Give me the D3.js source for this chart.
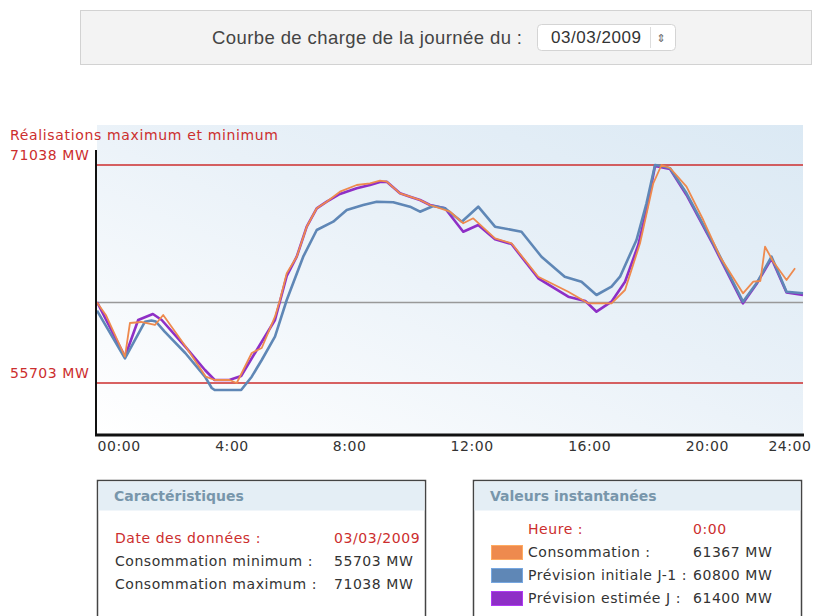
<!DOCTYPE html>
<html>
<head>
<meta charset="utf-8">
<script src="https://cdn.jsdelivr.net/npm/d3@7"></script>
<style>
  body { margin: 0; background: #fff; }
  svg { display: block; }
</style>
</head>
<body>
<svg id="chart" width="813" height="616"></svg>
<script>
// --- data ---
const dayLabel = '03/03/2009'
const consoMin = 55703
const consoMax = 71038
const currentHour = '0:00'
const currentValues = [61367, 60800, 61400]

const tickHours = [0, 4, 8, 12, 16, 20, 24]
const tickLabels = ['00:00', '4:00', '8:00', '12:00', '16:00', '20:00', '24:00']

const seriesNames = ['Consommation :', 'Prévision initiale J-1 :', 'Prévision estimée J :']
const seriesColors = ['#ee8a4e', '#5f87b6', '#8e2fc6']

// Prévision initiale J-1
const initHours = [0, 0.95, 1.63, 1.85, 2.0, 2.3, 3.0, 3.67, 3.9, 4.0, 4.9, 5.26, 5.6, 6.05, 6.45, 7.01, 7.47, 8.03, 8.49, 9.05,
    9.51, 10.07, 10.64, 10.98, 11.43, 11.83, 12.4, 12.96, 13.53, 14.43, 15.11, 15.9, 16.47, 16.98, 17.49, 17.78, 18.34, 18.68,
    18.97, 19.2, 19.48, 20.04, 20.95, 21.96, 22.42, 22.93, 23.44, 24]
const initValues = [60800, 57441, 60016, 60100, 60030, 59312, 57814, 56147, 55352, 55211, 55211, 56147, 57322, 58961, 61542,
    64588, 66466, 67050, 67873, 68224, 68457, 68414, 68105, 67753, 68154, 67992, 67050, 68105, 66698, 66346, 64588, 63181,
    62829, 61894, 62478, 63181, 65762, 68344, 71038, 70968, 70806, 69047, 65530, 61423, 62717, 64588, 62126, 62013]

// Prévision estimée J
const estHours = [0, 0.95, 1.4, 1.9, 2.2, 3.0, 3.67, 4.0, 4.5, 4.9, 5.37, 6.05, 6.45, 6.79, 7.13, 7.47, 7.81, 8.26, 8.83, 9.28,
    9.62, 9.85, 10.3, 10.64, 10.98, 11.32, 11.83, 12.45, 12.96, 13.53, 14.09, 15.0, 16.02, 16.6, 16.98, 17.49, 17.95, 18.4,
    18.68, 18.97, 19.48, 20.04, 20.95, 21.96, 22.42, 22.93, 23.44, 24]
const estValues = [61400, 57554, 60135, 60557, 60135, 58257, 56618, 55915, 55915, 56196, 57814, 60135, 63230, 64588, 66698,
    67992, 68457, 68998, 69399, 69631, 69842, 69864, 69047, 68808, 68576, 68224, 67992, 66346, 66818, 65812, 65481, 63068,
    61774, 61472, 60719, 61423, 62829, 65411, 67873, 70968, 70757, 68928, 65411, 61310, 62668, 64461, 62070, 61894]

// Consommation (réalisée)
const consoHours = [0, 0.3, 0.95, 1.12, 1.5, 1.97, 2.25, 3.0, 3.7, 4.0, 4.5, 4.75, 5.26, 5.6, 6.05, 6.22, 6.45, 6.79, 7.13,
    7.47, 7.81, 8.26, 8.83, 9.28, 9.62, 9.85, 10.3, 10.64, 10.98, 11.32, 12.0, 12.45, 12.79, 13.53, 14.09, 15.0, 16.02, 16.7,
    17.49, 17.95, 18.46, 18.91, 19.19, 19.48, 20.04, 20.61, 21.18, 21.96, 22.31, 22.55, 22.71, 22.99, 23.44, 23.73]
const consoValues = [61367, 60487, 57554, 59924, 59995, 59784, 60487, 58306, 56147, 55915, 55915, 55703, 57814, 58166,
    60367, 61542, 63420, 64588, 66698, 67992, 68457, 69160, 69631, 69751, 69934, 69864, 69047, 68808, 68576, 68224, 67753,
    66937, 67289, 65882, 65530, 63181, 62126, 61310, 61310, 62245, 65530, 69751, 71038, 70827, 69512, 67169, 64588, 62013,
    62829, 62878, 65291, 64236, 62949, 63772]

const svg = d3.select('#chart')
const red = '#cc2e2e'
const textFont = 'DejaVu Sans, Verdana, sans-serif'
const spacing = '0.55px'

// --- header box ---
svg.append('rect')
    .attr('x', 80.5).attr('y', 10.5).attr('width', 731).attr('height', 54)
    .attr('fill', '#f3f3f3')
    .attr('stroke', '#aaa').attr('stroke-dasharray', '1,1')
svg.append('text')
    .attr('x', 522).attr('y', 44)
    .attr('text-anchor', 'end')
    .style('font', '18.5px "Liberation Sans", Arial, sans-serif')
    .attr('textLength', 310)
    .attr('fill', '#444')
    .text('Courbe de charge de la journée du :')
svg.append('rect')
    .attr('x', 537.5).attr('y', 24.5).attr('width', 138).attr('height', 26).attr('rx', 4)
    .attr('fill', '#fff').attr('stroke', '#d4d4d4')
svg.append('line')
    .attr('x1', 650.5).attr('x2', 650.5).attr('y1', 27).attr('y2', 48)
    .attr('stroke', '#ddd')
svg.append('text')
    .attr('x', 551).attr('y', 43)
    .style('font', '17px "Liberation Sans", Arial, sans-serif')
    .attr('textLength', 90)
    .attr('fill', '#333')
    .text(dayLabel)
svg.append('text')
    .attr('x', 661).attr('y', 42)
    .attr('text-anchor', 'middle')
    .style('font', '11px "DejaVu Sans", sans-serif')
    .attr('fill', '#666')
    .text('⇕')

// --- chart ---
const plot = { left: 97, right: 803, top: 125, bottom: 434 }

const xScale = d3.scaleLinear()
    .domain([0, 24])
    .range([plot.left, plot.right])

const yScale = d3.scaleLinear()
    .domain([consoMin, consoMax])
    .range([383, 165])

const defs = svg.append('defs')
const grad = defs.append('linearGradient')
    .attr('id', 'bg')
    .attr('x1', '0%').attr('y1', '100%').attr('x2', '100%').attr('y2', '0%')
grad.append('stop').attr('offset', '0%').attr('stop-color', '#ffffff')
grad.append('stop').attr('offset', '55%').attr('stop-color', '#e9f1f8')
grad.append('stop').attr('offset', '100%').attr('stop-color', '#dbe9f4')

svg.append('rect')
    .attr('x', plot.left).attr('y', plot.top)
    .attr('width', plot.right - plot.left).attr('height', plot.bottom - plot.top)
    .attr('fill', 'url(#bg)')

// min / max lines
svg.selectAll('line.limit')
    .data([consoMax, consoMin])
    .enter()
    .append('line')
    .attr('class', 'limit')
    .attr('x1', plot.left).attr('x2', plot.right)
    .attr('y1', d => yScale(d)).attr('y2', d => yScale(d))
    .attr('stroke', red).attr('stroke-width', 1.5)

// current value line
svg.append('line')
    .attr('x1', plot.left).attr('x2', plot.right)
    .attr('y1', yScale(currentValues[0])).attr('y2', yScale(currentValues[0]))
    .attr('stroke', '#999').attr('stroke-width', 1.5)

// labels
svg.append('text')
    .attr('x', 10).attr('y', 140)
    .style('font', '14px ' + textFont)
    .style('letter-spacing', '0.65px')
    .attr('fill', red)
    .text('Réalisations maximum et minimum')
svg.selectAll('text.limit')
    .data([consoMax, consoMin])
    .enter()
    .append('text')
    .attr('class', 'limit')
    .attr('x', 10).attr('y', d => yScale(d) - 5)
    .style('font', '14px ' + textFont)
    .style('letter-spacing', spacing)
    .attr('fill', red)
    .text(d => `${d} MW`)

// series
const line = d3.line()
    .x(d => xScale(d[0]))
    .y(d => yScale(d[1]))

const series = [
    { hours: estHours, values: estValues, color: seriesColors[2], width: 2.6 },
    { hours: initHours, values: initValues, color: seriesColors[1], width: 2.6 },
    { hours: consoHours, values: consoValues, color: seriesColors[0], width: 1.8 }
]

series.forEach(s => {
    svg.append('path')
        .datum(s.hours.map((h, i) => [h, s.values[i]]))
        .attr('d', line)
        .attr('fill', 'none')
        .attr('stroke', s.color)
        .attr('stroke-width', s.width)
        .attr('stroke-linejoin', 'round')
})

// axes
svg.append('line')
    .attr('x1', plot.left - 1).attr('x2', plot.left - 1)
    .attr('y1', 150).attr('y2', plot.bottom + 2)
    .attr('stroke', '#111').attr('stroke-width', 2)
svg.append('line')
    .attr('x1', plot.left - 2).attr('x2', plot.right + 1)
    .attr('y1', plot.bottom + 1).attr('y2', plot.bottom + 1)
    .attr('stroke', '#111').attr('stroke-width', 3)

const xAxis = d3.axisBottom(xScale)
    .tickValues(tickHours)
    .tickFormat((d, i) => tickLabels[i])
    .tickSize(0)
    .tickPadding(0)
const gx = svg.append('g')
    .attr('transform', `translate(0,${plot.bottom + 3})`)
    .call(xAxis)
gx.select('.domain').remove()
gx.selectAll('text')
    .style('font', '14px ' + textFont)
    .style('letter-spacing', spacing)
    .attr('fill', '#333')
    .attr('dy', '1em')
    .attr('text-anchor', (d, i) => i === tickHours.length - 1 ? 'end' : 'start')
    .attr('dx', (d, i) => i === tickHours.length - 1 ? 8 : 0)

// --- info boxes ---
const drawBox = (x, title) => {
    const g = svg.append('g').attr('transform', `translate(${x},480)`)
    g.append('rect')
        .attr('x', 0.5).attr('y', 0.5).attr('width', 328).attr('height', 150)
        .attr('fill', '#fff').attr('stroke', '#444').attr('stroke-width', 1.5)
    g.append('rect')
        .attr('x', 1.5).attr('y', 1.5).attr('width', 326).attr('height', 29)
        .attr('fill', '#e4eef5')
    g.append('text')
        .attr('x', 17).attr('y', 21)
        .style('font', 'bold 14px ' + textFont)
        .attr('fill', '#7896ab')
        .text(title)
    return g
}

const bodyText = (g, x, y, color, txt) => g.append('text')
    .attr('x', x).attr('y', y)
    .style('font', '14px ' + textFont)
    .style('letter-spacing', spacing)
    .attr('fill', color)
    .text(txt)

const left = drawBox(97, 'Caractéristiques')
const leftRows = [
    ['Date des données :', dayLabel, red],
    ['Consommation minimum :', `${consoMin} MW`, '#333'],
    ['Consommation maximum :', `${consoMax} MW`, '#333']
]
leftRows.forEach((r, i) => {
    bodyText(left, 18, 63 + i * 23, r[2], r[0])
    bodyText(left, 237, 63 + i * 23, r[2], r[1])
})

const right = drawBox(473, 'Valeurs instantanées')
bodyText(right, 55, 54, red, 'Heure :')
bodyText(right, 220, 54, red, currentHour)
seriesNames.forEach((name, i) => {
    right.append('rect')
        .attr('x', 18.5).attr('y', 65.5 + i * 23).attr('width', 31).attr('height', 14)
        .attr('fill', seriesColors[i]).attr('stroke', d3.color(seriesColors[i]).brighter(0.6))
    bodyText(right, 55, 77 + i * 23, '#333', name)
    bodyText(right, 220, 77 + i * 23, '#333', `${currentValues[i]} MW`)
})
</script>
</body>
</html>
